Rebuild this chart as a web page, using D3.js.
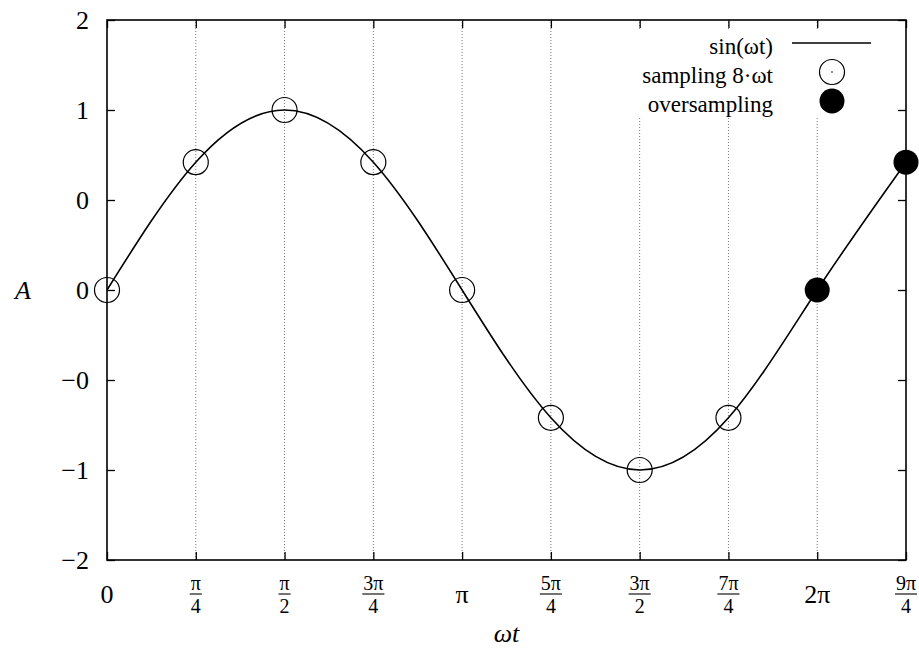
<!DOCTYPE html>
<html>
<head>
<meta charset="utf-8">
<script src="https://cdn.jsdelivr.net/npm/d3@7"></script>
<style>
  body { margin: 0; background: #fff; }
  svg { font-family: "Liberation Serif", "DejaVu Serif", serif; }
</style>
</head>
<body>
<svg id="chart" width="919" height="648"></svg>
<script>
// x positions in units of pi/4
var tickSteps = [0, 1, 2, 3, 4, 5, 6, 7, 8, 9];
var tickNum = ["0", "π", "π", "3π", "π", "5π", "3π", "7π", "2π", "9π"];
var tickDen = [null, "4", "2", "4", null, "4", "2", "4", null, "4"];

// amplitude
var curveY = [0, 0.71, 1, 0.71, 0, -0.71, -1, -0.71, 0, 0.71];
var sampleSteps = [0, 1, 2, 3, 4, 5, 6, 7];
var sampleY = [0, 0.71, 1, 0.71, 0, -0.71, -1, -0.71];
var overSteps = [8, 9];
var overY = [0, 0.71];

var yTicks = [-1.5, -1, -0.5, 0, 0.5, 1, 1.5];
var yLabels = ["−2", "−1", "−0", "0", "0", "1", "2"];

var legendNames = ["sin(ωt)", "sampling 8·ωt", "oversampling"];

var svg = d3.select("#chart");
var pLeft = 107, pRight = 906, pTop = 20, pBottom = 560;

var x = d3.scaleLinear().domain([0, 9 * Math.PI / 4]).range([pLeft, pRight]);
var y = d3.scaleLinear().domain([-1.5, 1.5]).range([pBottom, pTop]);
var q = function(s) { return s * Math.PI / 4; };

// grid
svg.append("g")
  .selectAll("line")
  .data(tickSteps.slice(1, -1))
  .enter().append("line")
    .attr("x1", function(d) { return x(q(d)); })
    .attr("x2", function(d) { return x(q(d)); })
    .attr("y1", pBottom)
    .attr("y2", pTop)
    .attr("stroke", "#777")
    .attr("stroke-width", 1)
    .attr("stroke-dasharray", "1,2");

// legend background hides the grid
svg.append("rect")
  .attr("x", 600).attr("y", 29)
  .attr("width", 300).attr("height", 87)
  .attr("fill", "#fff");

// curve
var line = d3.line()
  .x(function(d, i) { return x(q(tickSteps[i])); })
  .y(function(d) { return y(d); })
  .curve(d3.curveNatural);

svg.append("path")
  .datum(curveY)
  .attr("d", line)
  .attr("fill", "none")
  .attr("stroke", "#000")
  .attr("stroke-width", 1.6);

// samples
svg.append("g")
  .selectAll("circle")
  .data(sampleY)
  .enter().append("circle")
    .attr("cx", function(d, i) { return x(q(sampleSteps[i])); })
    .attr("cy", function(d) { return y(d); })
    .attr("r", 12.5)
    .attr("fill", "none")
    .attr("stroke", "#000")
    .attr("stroke-width", 1.2);

svg.append("g")
  .selectAll("circle")
  .data(overY)
  .enter().append("circle")
    .attr("cx", function(d, i) { return x(q(overSteps[i])); })
    .attr("cy", function(d) { return y(d); })
    .attr("r", 12.5)
    .attr("fill", "#000");

// axes (inner ticks)
var xVals = tickSteps.map(q);
svg.append("g")
  .attr("transform", "translate(0," + pBottom + ")")
  .call(d3.axisTop(x).tickValues(xVals).tickSize(8).tickFormat(""));
svg.append("g")
  .attr("transform", "translate(0," + pTop + ")")
  .call(d3.axisBottom(x).tickValues(xVals).tickSize(8).tickFormat(""));
svg.append("g")
  .attr("transform", "translate(" + pLeft + ",0)")
  .call(d3.axisRight(y).tickValues(yTicks).tickSize(8).tickFormat(""));
svg.append("g")
  .attr("transform", "translate(" + pRight + ",0)")
  .call(d3.axisLeft(y).tickValues(yTicks).tickSize(8).tickFormat(""));
svg.selectAll(".domain").remove();
svg.selectAll(".tick line").attr("stroke", "#000").attr("stroke-width", 1.3);

// frame
svg.append("rect")
  .attr("x", pLeft).attr("y", pTop)
  .attr("width", pRight - pLeft).attr("height", pBottom - pTop)
  .attr("fill", "none")
  .attr("stroke", "#000")
  .attr("stroke-width", 1.6);

// y tick labels
svg.append("g")
  .selectAll("text")
  .data(yTicks)
  .enter().append("text")
    .attr("x", 89)
    .attr("y", function(d) { return y(d); })
    .attr("dy", "0.35em")
    .attr("text-anchor", "end")
    .attr("font-size", 26)
    .text(function(d, i) { return yLabels[i]; });

// x tick labels
var xl = svg.append("g")
  .selectAll("g")
  .data(tickSteps)
  .enter().append("g")
    .attr("transform", function(d) { return "translate(" + x(q(d)) + ",594)"; });

xl.each(function(d, i) {
  var g = d3.select(this);
  if (tickDen[i] === null) {
    g.append("text")
      .attr("text-anchor", "middle")
      .attr("y", 9)
      .attr("font-size", 26)
      .text(tickNum[i]);
  } else {
    var num = g.append("text")
      .attr("text-anchor", "middle")
      .attr("y", -4)
      .attr("font-size", 20)
      .text(tickNum[i]);
    var w = num.node().getComputedTextLength() / 2 + 1;
    g.append("line")
      .attr("x1", -w).attr("x2", w)
      .attr("stroke", "#000").attr("stroke-width", 1.1);
    g.append("text")
      .attr("text-anchor", "middle")
      .attr("y", 19)
      .attr("font-size", 20)
      .text(tickDen[i]);
  }
});

// axis titles
svg.append("text")
  .attr("x", 23).attr("y", 290).attr("dy", "0.35em")
  .attr("text-anchor", "middle")
  .attr("font-size", 26).attr("font-style", "italic")
  .text("A");
svg.append("text")
  .attr("x", (pLeft + pRight) / 2).attr("y", 642)
  .attr("text-anchor", "middle")
  .attr("font-size", 26).attr("font-style", "italic")
  .text("ωt");

// legend
var lg = svg.append("g")
  .selectAll("g")
  .data(legendNames)
  .enter().append("g")
    .attr("transform", function(d, i) { return "translate(0," + (43 + i * 29) + ")"; });

lg.append("text")
  .attr("x", 773)
  .attr("y", 11)
  .attr("text-anchor", "end")
  .attr("font-size", 23)
  .text(function(d) { return d; });

lg.filter(function(d, i) { return i === 0; })
  .append("line")
  .attr("x1", 792).attr("x2", 871)
  .attr("stroke", "#000").attr("stroke-width", 1.6);

lg.filter(function(d, i) { return i === 1; })
  .append("circle")
  .attr("cx", 832).attr("r", 12.5)
  .attr("fill", "none").attr("stroke", "#000").attr("stroke-width", 1.2);
lg.filter(function(d, i) { return i === 1; })
  .append("circle")
  .attr("cx", 832).attr("r", 0.8).attr("fill", "#000");

lg.filter(function(d, i) { return i === 2; })
  .append("circle")
  .attr("cx", 832).attr("r", 12.5)
  .attr("fill", "#000");
</script>
</body>
</html>
